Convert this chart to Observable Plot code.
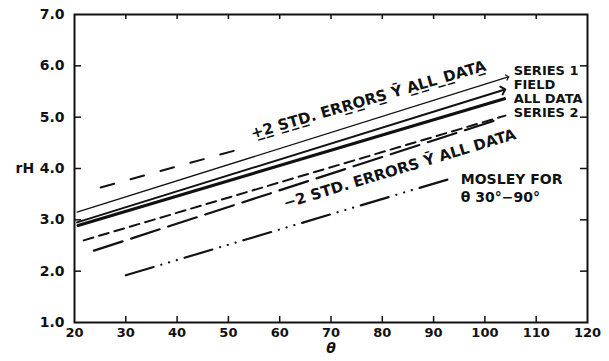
<!DOCTYPE html>
<html><head><meta charset="utf-8">
<script src="https://cdn.jsdelivr.net/npm/d3@7"></script>
<script src="https://cdn.jsdelivr.net/npm/@observablehq/plot@0.6"></script>
<style>
html,body{margin:0;padding:0;background:#fff;}
</style></head><body><div id="chart"></div>
<script>
// Axis ticks
const xTicks = [20, 30, 40, 50, 60, 70, 80, 90, 100, 110, 120];
const yTicks = [1, 2, 3, 4, 5, 6, 7];
const xInnerTicks = [30, 40, 50, 60, 70, 80, 90, 100, 110];
const yInnerTicks = [2, 3, 4, 5, 6];

// Lines: [theta, rH] end points
const series1 = [[20.5, 3.15], [104.4, 5.78]];
const field = [[20.5, 2.95], [103.6, 5.53]];
const allData = [[20.7, 2.89], [103.8, 5.36]];
const series2 = [[21.8, 2.60], [104.0, 5.03]];
const plus2Std = [[25.1, 3.63], [52.0, 4.37]];
const minus2Std = [[23.8, 2.40], [103.0, 4.97]];
const mosley = [[30, 1.92], [93.9, 3.82]];

// Labels
const rightLabels = ["SERIES 1", "FIELD", "ALL DATA", "SERIES 2"];
const rightLabelY = [5.91, 5.63, 5.36, 5.09];
const rightLabelX = 105.6;
const upperLabel = "+\u03322\u0332 S\u0332T\u0332D\u0332. ERR\u0332O\u0332RS\u0332 \u0232 A\u0332L\u0332L_D\u0332ATA\u0332";
const upperLabelPos = [54.7, 4.58];
const lowerLabel = "\u22122 STD. ERRORS \u0232 ALL DATA";
const lowerLabelPos = [61.1, 3.22];
const mosleyLabel = "MOSLEY FOR\n\u03b8 30\u00b0\u221290\u00b0";
const mosleyLabelPos = [95.3, 3.64];

const pts = a => a.map(([t, r]) => ({t, r}));
const ink = "#111";
const font = "DejaVu Sans";

const chart = Plot.plot({
  width: 609,
  height: 361,
  marginLeft: 74,
  marginRight: 22,
  marginTop: 14,
  marginBottom: 39,
  style: {fontFamily: font, fontWeight: "bold", background: "#fff", color: ink, overflow: "visible"},
  x: {domain: [20, 120]},
  y: {domain: [1, 7]},
  marks: [
    Plot.frame({stroke: ink, strokeWidth: 2}),
    Plot.axisX(xTicks, {tickSize: 0, tickPadding: 5, fontSize: 13, label: null, tickFormat: d => String(d)}),
    Plot.axisY(yTicks, {tickSize: 0, tickPadding: 10, fontSize: 14, label: null, tickFormat: d3.format(".1f")}),
    Plot.tickX(xInnerTicks, {x: d => d, insetTop: 302, stroke: ink, strokeWidth: 1.5}),
    Plot.tickX(xInnerTicks, {x: d => d, insetBottom: 303, stroke: ink, strokeWidth: 1.5}),
    Plot.tickY(yInnerTicks, {y: d => d, insetRight: 506, stroke: ink, strokeWidth: 1.5}),
    Plot.tickY(yInnerTicks, {y: d => d, insetLeft: 506, stroke: ink, strokeWidth: 1.5}),
    Plot.line(pts(series1), {x: "t", y: "r", stroke: ink, strokeWidth: 1.3, markerEnd: "arrow"}),
    Plot.line(pts(field), {x: "t", y: "r", stroke: ink, strokeWidth: 2, markerEnd: "arrow"}),
    Plot.line(pts(allData), {x: "t", y: "r", stroke: ink, strokeWidth: 3.2}),
    Plot.line(pts(series2), {x: "t", y: "r", stroke: ink, strokeWidth: 2, strokeDasharray: "10,6"}),
    Plot.line(pts(plus2Std), {x: "t", y: "r", stroke: ink, strokeWidth: 2, strokeDasharray: "14,17"}),
    Plot.line(pts(minus2Std), {x: "t", y: "r", stroke: ink, strokeWidth: 2.2, strokeDasharray: "30,9"}),
    Plot.line(pts(mosley), {x: "t", y: "r", stroke: ink, strokeWidth: 2.2, strokeDasharray: "29,8,0.1,8,0.1,8,0.1,8", strokeLinecap: "round"}),
    Plot.text(rightLabels, {x: () => rightLabelX, y: (d, i) => rightLabelY[i], text: d => d, textAnchor: "start", fontSize: 13, fill: ink}),
    Plot.text([upperLabel], {x: () => upperLabelPos[0], y: () => upperLabelPos[1], text: d => d, textAnchor: "start", lineAnchor: "bottom", rotate: -16.3, fontSize: 15, fill: ink}),
    Plot.text([lowerLabel], {x: () => lowerLabelPos[0], y: () => lowerLabelPos[1], text: d => d, textAnchor: "start", lineAnchor: "bottom", rotate: -16.8, fontSize: 15, fill: ink}),
    Plot.text([mosleyLabel], {x: () => mosleyLabelPos[0], y: () => mosleyLabelPos[1], text: d => d, textAnchor: "start", lineAnchor: "middle", lineHeight: 1.3, fontSize: 14, fill: ink}),
    Plot.text(["rH"], {frameAnchor: "left", dx: -59, textAnchor: "start", fontSize: 14, fill: ink}),
    Plot.text(["\u03b8"], {frameAnchor: "bottom", dy: 30, fontSize: 14, fontStyle: "italic", fill: ink})
  ]
});
document.getElementById("chart").appendChild(chart);
</script>
</body></html>
